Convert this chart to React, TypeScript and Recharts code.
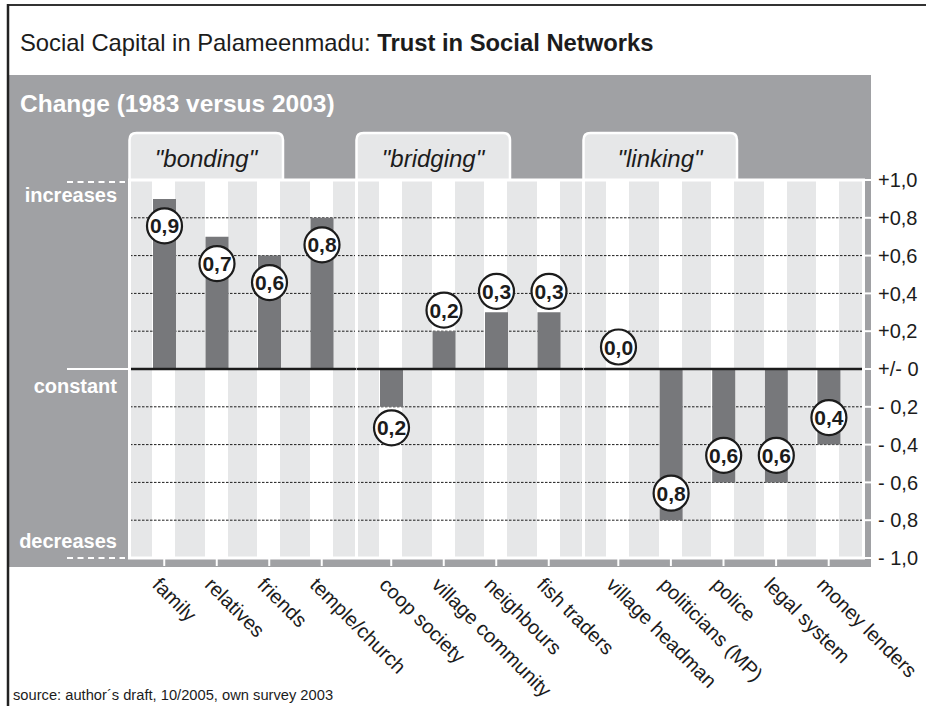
import React from "react";
import {
  BarChart,
  Bar,
  XAxis,
  YAxis,
  CartesianGrid,
  ReferenceLine,
  LabelList,
} from "recharts";

// values (change 1983 vs 2003)
const bondingLabels = ["family", "relatives", "friends", "temple/church"];
const bondingValues = [0.9, 0.7, 0.6, 0.8];

const bridgingLabels = ["coop society", "village community", "neighbours", "fish traders"];
const bridgingValues = [-0.2, 0.2, 0.3, 0.3];

const linkingLabels = [
  "village headman",
  "politicians (MP)",
  "police",
  "legal system",
  "money lenders",
];
const linkingValues = [0.0, -0.8, -0.6, -0.6, -0.4];

const groupNames = ['"bonding"', '"bridging"', '"linking"'];

const yTicks = [1, 0.8, 0.6, 0.4, 0.2, 0, -0.2, -0.4, -0.6, -0.8, -1];
const yTickLabels = [
  "+1,0", "+0,8", "+0,6", "+0,4", "+0,2", "+/- 0",
  "- 0,2", "- 0,4", "- 0,6", "- 0,8", "- 1,0",
];
const gridValues = [0.8, 0.6, 0.4, 0.2, -0.2, -0.4, -0.6, -0.8];

const sideValues = [1, 0, -1];
const sideLabels = ["increases", "constant", "decreases"];

// colours / layout
const PANEL = "#a0a1a4";
const STRIPE = "#e6e7e8";
const BAR = "#77787b";
const INK = "#1c1c1c";
const FONT = '"Liberation Sans", Arial, Helvetica, sans-serif';

const W = 926;
const CHART_TOP = 170;
const CHART_H = 536;
const BAR_W = 23;
const PAD = 8;

const groups = [
  { labels: bondingLabels, values: bondingValues, left: 130, right: 356 },
  { labels: bridgingLabels, values: bridgingValues, left: 357, right: 583 },
  { labels: linkingLabels, values: linkingValues, left: 584, right: 863 },
];

const fmt = (v: number) => Math.abs(v).toFixed(1).replace(".", ",");

// white columns behind the bars, grey in between
const makeStripes = (labels: string[]) => (args: any) => {
  const { xAxis, offset } = args;
  const left = offset.left;
  const width = offset.width;
  const scale = xAxis && xAxis.scale;
  const pts: number[] = [left];
  labels.forEach((name, i) => {
    let s: number = NaN;
    let bw: number = NaN;
    if (typeof scale === "function") {
      s = scale(name);
      bw = typeof scale.bandwidth === "function" ? scale.bandwidth() : NaN;
    }
    if (!Number.isFinite(s) || !Number.isFinite(bw)) {
      bw = (width - 2 * PAD) / labels.length;
      s = left + PAD + bw * i;
    }
    const x0 = s + (((bw - BAR_W) / 2) >> 0);
    pts.push(x0, x0 + BAR_W);
  });
  return pts;
};

const Badge = (props: any) => {
  const { x, y, width, height, value } = props;
  const v = Number(value);
  const top = Math.min(y, y + height);
  const bottom = Math.max(y, y + height);
  const big = Math.abs(v) >= 0.35;
  const cx = x + width / 2;
  let cy;
  if (v >= 0) cy = big ? top + 27 : top - 21;
  else cy = big ? bottom - 27 : bottom + 21;
  return (
    <g>
      <circle cx={cx} cy={cy} r={17.5} fill="#fff" stroke={INK} strokeWidth={2.2} />
      <text
        x={cx}
        y={cy}
        dy="0.36em"
        textAnchor="middle"
        fontFamily={FONT}
        fontWeight={700}
        fontSize={21}
        fill={INK}
      >
        {fmt(v)}
      </text>
    </g>
  );
};

const XTick = (props: any) => {
  const { x, y, payload } = props;
  const ax = x - 13;
  const ay = y + 20;
  return (
    <text
      x={ax}
      y={ay}
      transform={`rotate(45, ${ax}, ${ay})`}
      textAnchor="start"
      fontFamily={FONT}
      fontSize={20}
      fill={INK}
    >
      {payload.value}
    </text>
  );
};

const SideTick = (props: any) => {
  const { y, payload } = props;
  const v = payload.value;
  const label = sideLabels[sideValues.indexOf(v)];
  const textProps = {
    x: 117,
    textAnchor: "end" as const,
    fontFamily: FONT,
    fontWeight: 700,
    fontSize: 20,
    fill: "#fff",
  };
  if (v > 0) {
    return (
      <g>
        <line x1={67} x2={125} y1={y + 2} y2={y + 2} stroke="#fff" strokeWidth={2} strokeDasharray="6 4.5" />
        <text {...textProps} y={y + 22}>{label}</text>
      </g>
    );
  }
  if (v < 0) {
    return (
      <g>
        <line x1={67} x2={125} y1={y} y2={y} stroke="#fff" strokeWidth={2} strokeDasharray="6 4.5" />
        <text {...textProps} y={y - 10}>{label}</text>
      </g>
    );
  }
  return (
    <g>
      <line x1={67} x2={129} y1={y} y2={y} stroke="#fff" strokeWidth={2} />
      <text {...textProps} y={y + 24}>{label}</text>
    </g>
  );
};

function GroupChart({ index }: { index: number }) {
  const g = groups[index];
  const data = g.labels.map((name, i) => ({ name, value: g.values[i] }));
  const isFirst = index === 0;
  const isLast = index === groups.length - 1;
  return (
    <div style={{ position: "absolute", left: 0, top: CHART_TOP }}>
      <BarChart
        width={W}
        height={CHART_H}
        data={data}
        margin={{
          top: 10,
          bottom: 0,
          left: isFirst ? 0 : g.left,
          right: isLast ? 0 : W - g.right,
        }}
      >
        <CartesianGrid
          horizontal={false}
          vertical
          stroke="none"
          verticalFill={[STRIPE, "#ffffff"]}
          verticalCoordinatesGenerator={makeStripes(g.labels)}
        />
        <CartesianGrid
          horizontal
          vertical={false}
          horizontalValues={gridValues}
          stroke={INK}
          strokeDasharray="2.5 1.5"
        />
        <XAxis
          dataKey="name"
          type="category"
          padding={{ left: PAD, right: PAD }}
          axisLine={false}
          tickLine={{ stroke: "#fff", strokeWidth: 2 }}
          tickSize={8}
          tickMargin={0}
          height={148}
          interval={0}
          tick={(p: any) => <XTick {...p} />}
        />
        {isFirst && (
          <YAxis
            type="number"
            domain={[-1, 1]}
            ticks={sideValues}
            interval={0}
            width={130}
            axisLine={false}
            tickLine={false}
            tick={(p: any) => <SideTick {...p} />}
          />
        )}
        {!isFirst && !isLast && <YAxis type="number" domain={[-1, 1]} hide />}
        {isLast && (
          <YAxis
            type="number"
            orientation="right"
            domain={[-1, 1]}
            ticks={yTicks}
            interval={0}
            width={63}
            axisLine={false}
            tickLine={{ stroke: "#fff", strokeWidth: 2 }}
            tickSize={8}
            tickMargin={7}
            tick={{ fontSize: 20, fill: INK, fontFamily: FONT }}
            tickFormatter={(v: number) => yTickLabels[yTicks.indexOf(v)]}
          />
        )}
        <ReferenceLine y={0} stroke={INK} strokeWidth={2.5} />
        <Bar
          dataKey="value"
          fill={BAR}
          barSize={BAR_W}
          minPointSize={1}
          isAnimationActive={false}
        >
          <LabelList dataKey="value" content={(p: any) => <Badge {...p} />} />
        </Bar>
      </BarChart>
    </div>
  );
}

function tabPath(x0: number, x1: number) {
  const top = 133;
  const r = 7;
  return `M${x0} 181 L${x0} ${top + r} Q${x0} ${top} ${x0 + r} ${top} L${x1 - r} ${top} Q${x1} ${top} ${x1} ${top + r} L${x1} 181`;
}

export default function App() {
  return (
    <div
      style={{
        position: "relative",
        width: W,
        height: 706,
        background: "#fff",
        overflow: "hidden",
        fontFamily: FONT,
      }}
    >
      <style>{`body{margin:0} .recharts-surface{overflow:visible}`}</style>

      {/* background: frame, panel, titles, tabs */}
      <svg width={W} height={706} style={{ position: "absolute", left: 0, top: 0 }}>
        <rect x={9} y={75} width={862} height={492} fill={PANEL} />
        <line x1={7} x2={W} y1={5} y2={5} stroke="#333" strokeWidth={2} />
        <line x1={8} x2={8} y1={4} y2={706} stroke="#222" strokeWidth={2.5} />
        <text x={20} y={51} fontFamily={FONT} fontSize={23.8} fill={INK}>
          <tspan>{"Social Capital in Palameenmadu: "}</tspan>
          <tspan fontWeight={700}>Trust in Social Networks</tspan>
        </text>
        <text x={20} y={112} fontFamily={FONT} fontSize={24.5} fontWeight={700} fill="#fff">
          Change (1983 versus 2003)
        </text>
        {groups.map((g, i) => (
          <g key={groupNames[i]}>
            <path d={tabPath(g.left - 0.5, g.left + 153)} fill={STRIPE} stroke="#fff" strokeWidth={2.5} />
            <text
              x={g.left + 76}
              y={167}
              textAnchor="middle"
              fontFamily={FONT}
              fontStyle="italic"
              fontSize={24}
              fill={INK}
            >
              {groupNames[i]}
            </text>
          </g>
        ))}
        <text x={13} y={700} fontFamily={FONT} fontSize={14.7} fill={INK}>
          source: author´s draft, 10/2005, own survey 2003
        </text>
      </svg>

      {groups.map((g, i) => (
        <GroupChart key={g.left} index={i} />
      ))}

      {/* white plot frame and group separators (the zero line runs across them) */}
      <svg
        width={W}
        height={706}
        style={{ position: "absolute", left: 0, top: 0, pointerEvents: "none" }}
      >
        <rect x={129.5} y={180} width={734} height={378} fill="none" stroke="#fff" strokeWidth={3} />
        {[356.5, 583.5].map((x) => (
          <g key={x}>
            <line x1={x} x2={x} y1={180} y2={367.6} stroke="#fff" strokeWidth={3} />
            <line x1={x} x2={x} y1={370.4} y2={558} stroke="#fff" strokeWidth={3} />
          </g>
        ))}
      </svg>
    </div>
  );
}
